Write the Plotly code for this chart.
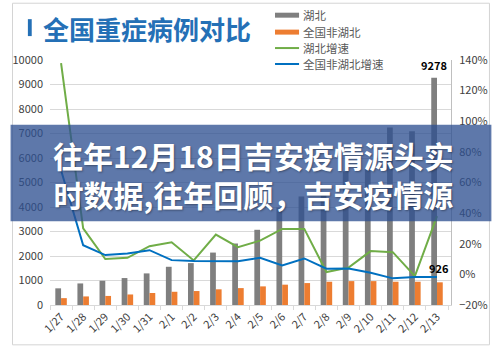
import plotly.graph_objects as go

categories = ["1/27", "1/28", "1/29", "1/30", "1/31", "2/1", "2/2", "2/3", "2/4",
              "2/5", "2/6", "2/7", "2/8", "2/9", "2/10", "2/11", "2/12", "2/13"]
hubei = [680, 880, 990, 1100, 1290, 1560, 1710, 2140, 2510, 3070, 3980, 4430,
         4470, 5460, 5600, 7240, 7090, 9278]
non_hubei = [280, 350, 370, 430, 490, 540, 570, 640, 690, 760, 830, 895, 950,
             975, 975, 950, 950, 926]
hubei_growth = [138, 30, 10, 10.8, 18.4, 21, 9.1, 26, 17.8, 22, 29.7, 29.7, 1.5,
                4.4, 15.2, 14.5, -1.1, 38]
non_hubei_growth = [68, 19, 12.6, 13.7, 15.8, 9.3, 8.7, 8.5, 8.5, 10.8, 5.9, 10.4,
                    3.7, 3.9, 1.1, -2.6, -1.7, -1.7]
series_names = ["湖北", "全国非湖北", "湖北增速", "全国非湖北增速"]
title_text = "全国重症病例对比"
overlay_lines = ["往年12月18日吉安疫情源头实", "时数据,往年回顾，吉安疫情源"]

GRAY, ORANGE, GREEN, BLUE = "#7f7f7f", "#ed7d31", "#70ad47", "#0070c0"
FONT = "Noto Sans CJK SC"

W, H = 500, 348
L, R, T, B = 41, 42, 60, 42
PW, PH = W - L - R, H - T - B


def px(x):
    return (x - L) / PW


def py(y):
    return (H - B - y) / PH


fig = go.Figure()
fig.add_trace(go.Bar(x=categories, y=hubei, name=series_names[0], marker_color=GRAY,
                     marker_line_width=0))
fig.add_trace(go.Bar(x=categories, y=non_hubei, name=series_names[1], marker_color=ORANGE,
                     marker_line_width=0))
fig.add_trace(go.Scatter(x=categories, y=hubei_growth, name=series_names[2], mode="lines",
                         line=dict(color=GREEN, width=2), yaxis="y2"))
fig.add_trace(go.Scatter(x=categories, y=non_hubei_growth, name=series_names[3], mode="lines",
                         line=dict(color=BLUE, width=2), yaxis="y2"))

shapes = []
annotations = []

# outer frame
shapes.append(dict(type="rect", xref="paper", yref="paper", x0=px(2), x1=px(498),
                   y0=py(346), y1=py(3), line=dict(color="#d4d4d4", width=1),
                   fillcolor="rgba(0,0,0,0)", layer="below"))
# title bar + title
shapes.append(dict(type="rect", xref="paper", yref="paper", x0=px(18), x1=px(22),
                   y0=py(36), y1=py(19), line_width=0, fillcolor="#2470b6", layer="above"))
annotations.append(dict(text=title_text, xref="paper", yref="paper", x=px(32), y=py(28),
                        xanchor="left", yanchor="middle", showarrow=False,
                        font=dict(family=FONT, size=26, color="#2470b6", weight="bold")))

# custom legend
shapes.append(dict(type="rect", xref="paper", yref="paper", x0=px(270), x1=px(392),
                   y0=py(70), y1=py(5), line_width=0, fillcolor="white", layer="above"))
leg_y = [15, 32, 48, 64]
leg_col = [GRAY, ORANGE, GREEN, BLUE]
for i in range(4):
    if i < 2:
        shapes.append(dict(type="rect", xref="paper", yref="paper", x0=px(275), x1=px(300),
                           y0=py(leg_y[i] + 2.5), y1=py(leg_y[i] - 2.5), line_width=0,
                           fillcolor=leg_col[i], layer="above"))
    else:
        shapes.append(dict(type="line", xref="paper", yref="paper", x0=px(275), x1=px(300),
                           y0=py(leg_y[i]), y1=py(leg_y[i]),
                           line=dict(color=leg_col[i], width=2), layer="above"))
    annotations.append(dict(text=series_names[i], xref="paper", yref="paper", x=px(302),
                            y=py(leg_y[i]), xanchor="left", yanchor="middle", showarrow=False,
                            font=dict(family=FONT, size=11.5, color="#595959")))

# data labels
annotations.append(dict(text=str(hubei[-1]), x=categories[-1], y=hubei[-1], xref="x", yref="y",
                        showarrow=False, xshift=-3, yshift=13,
                        font=dict(family=FONT, size=11, color="black", weight="bold")))
annotations.append(dict(text=str(non_hubei[-1]), x=categories[-1], y=non_hubei[-1], xref="x",
                        yref="y", showarrow=False, xshift=2, yshift=14,
                        font=dict(family=FONT, size=11, color="black", weight="bold")))

# overlay band
shapes.append(dict(type="rect", xref="paper", yref="paper", x0=px(0), x1=px(500),
                   y0=py(222), y1=py(125), line_width=0,
                   fillcolor="rgba(45,80,145,0.77)", layer="above"))
annotations.append(dict(text="<br>".join(overlay_lines), xref="paper", yref="paper",
                        x=px(253), y=py(175), xanchor="center", yanchor="middle",
                        align="center", showarrow=False,
                        font=dict(family=FONT, size=30, color="white", weight="bold",
                                  shadow="1px 1px 2px rgba(0,0,0,0.35)")))

fig.update_layout(
    width=W, height=H,
    margin=dict(l=L, r=R, t=T, b=B, pad=0),
    paper_bgcolor="white", plot_bgcolor="white",
    barmode="group", bargap=0.48, bargroupgap=0,
    showlegend=False,
    font=dict(family=FONT, color="#404040"),
    shapes=shapes, annotations=annotations,
    xaxis=dict(type="category", tickangle=-45, tickfont=dict(size=11, color="#404040"),
               showline=True, linecolor="#d9d9d9", linewidth=1, ticks="outside",
               tickson="boundaries", ticklen=4, tickcolor="#d9d9d9", showgrid=False),
    yaxis=dict(range=[0, 10000], dtick=1000, tickformat="d", showgrid=True,
               gridcolor="#d9d9d9", gridwidth=1, zeroline=False, showline=False, ticks="",
               tickfont=dict(size=11, color="#404040"), ticklabelstandoff=6),
    yaxis2=dict(range=[-20, 140], dtick=20, overlaying="y", side="right",
                ticksuffix="%", showgrid=False, zeroline=False, showline=True,
                linecolor="#bfbfbf", linewidth=1, ticks="",
                tickfont=dict(size=11, color="#404040"), ticklabelstandoff=5),
)

fig.write_html("out.html")
